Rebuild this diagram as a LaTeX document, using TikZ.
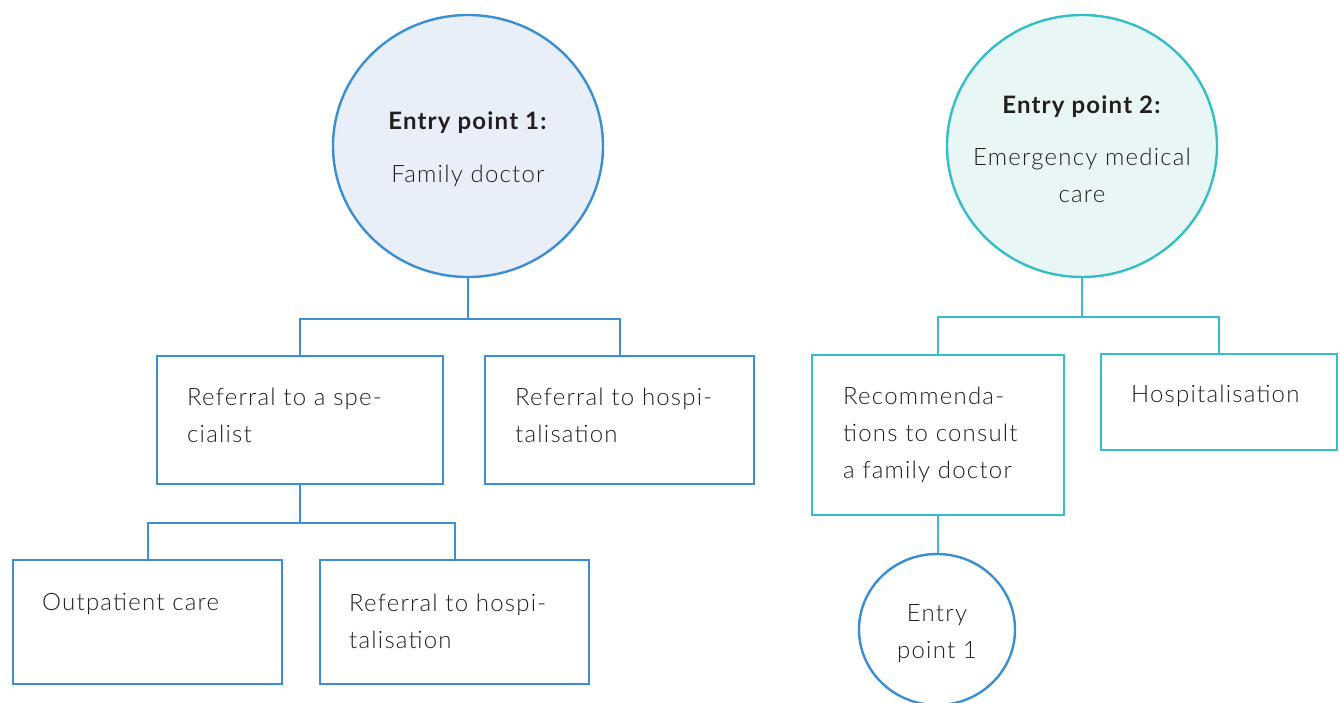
\documentclass[tikz,border=0pt]{standalone}
\usepackage{fontspec}
\setmainfont{Lato}[UprightFont=* Light, BoldFont=* Bold, LetterSpace=5]
\usetikzlibrary{shapes.geometric}
\definecolor{lineblue}{HTML}{3B8ED1}
\definecolor{lineteal}{HTML}{35BEC7}
\definecolor{fillblue}{HTML}{E8EFF9}
\definecolor{fillteal}{HTML}{E9F6F6}
\definecolor{ink}{HTML}{231F20}

\begin{document}
\begin{tikzpicture}[x=1pt,y=-1pt,
  every node/.style={font=\fontsize{24}{37}\selectfont, text=ink},
  entry/.style={ellipse, draw=#1, line width=2.4pt, inner sep=0pt},
  stepbox/.style={rectangle, draw=#1, line width=2.4pt, inner sep=0pt, anchor=north west},
  % multi-line texts are placed by the baseline of their last line
  txt/.style={inner sep=0pt, align=left, anchor=base west},
  ctxt/.style={inner sep=0pt, align=center, anchor=base},
  link/.style={draw=#1, line width=2.2pt},
]
\useasboundingbox (0,0) rectangle (1340,702);

% ---- Entry point 1: family doctor ----
\node[entry=lineblue, fill=fillblue, minimum width=270, minimum height=262] (ep1) at (468,146) {};
\node[ctxt] (ep1t) at (468,182.7) {\textbf{Entry point 1:}\\[16.7pt]Family doctor};

\node[stepbox=lineblue, minimum width=286, minimum height=128] (spec) at (156,355) {};
\node[txt] (spect) at (187,442.5) {Referral to a spe-\\cialist};

\node[stepbox=lineblue, minimum width=269, minimum height=128] (hosp1) at (484,355) {};
\node[txt] (hosp1t) at (515,442.5) {Referral to hospi-\\talisation};

\node[stepbox=lineblue, minimum width=269, minimum height=124] (outp) at (12,559) {};
\node[txt] (outpt) at (42,610) {Outpatient care};

\node[stepbox=lineblue, minimum width=269, minimum height=124] (hosp2) at (319,559) {};
\node[txt] (hosp2t) at (349,648) {Referral to hospi-\\talisation};

\draw[link=lineblue] (ep1.south) -- ++(0,41) coordinate (j1)
  (j1) -| (spec.north) (j1) -| (hosp1.north);
\draw[link=lineblue] (spec.south) -- ++(0,37.3) coordinate (j2)
  (j2) -| (outp.north) (j2) -| (hosp2.north);

% ---- Entry point 2: emergency medical care ----
\node[entry=lineteal, fill=fillteal, minimum width=270, minimum height=262] (ep2) at (1082,146) {};
\node[ctxt] (ep2t) at (1082,202.7) {\textbf{Entry point 2:}\\[15.6pt]Emergency medical\\care};

\node[stepbox=lineteal, minimum width=252, minimum height=160] (recom) at (811,354) {};
\node[txt] (recomt) at (843,478.5) {Recommenda-\\tions to consult\\a family doctor};

\node[stepbox=lineteal, minimum width=236, minimum height=96] (hosp3) at (1100,353) {};
\node[txt] (hosp3t) at (1131,402.7) {Hospitalisation};

\node[entry=lineblue, fill=white, minimum width=156, minimum height=151] (back) at (937,629.5) {};
\node[ctxt] (backt) at (937,658) {Entry\\point 1};

\draw[link=lineteal] (ep2.south) -- ++(0,39) coordinate (j3)
  (j3) -| (recom.north) (j3) -| (hosp3.north);
\draw[link=lineteal] (recom.south) -- (recom.south |- back.north);
\end{tikzpicture}
\end{document}
